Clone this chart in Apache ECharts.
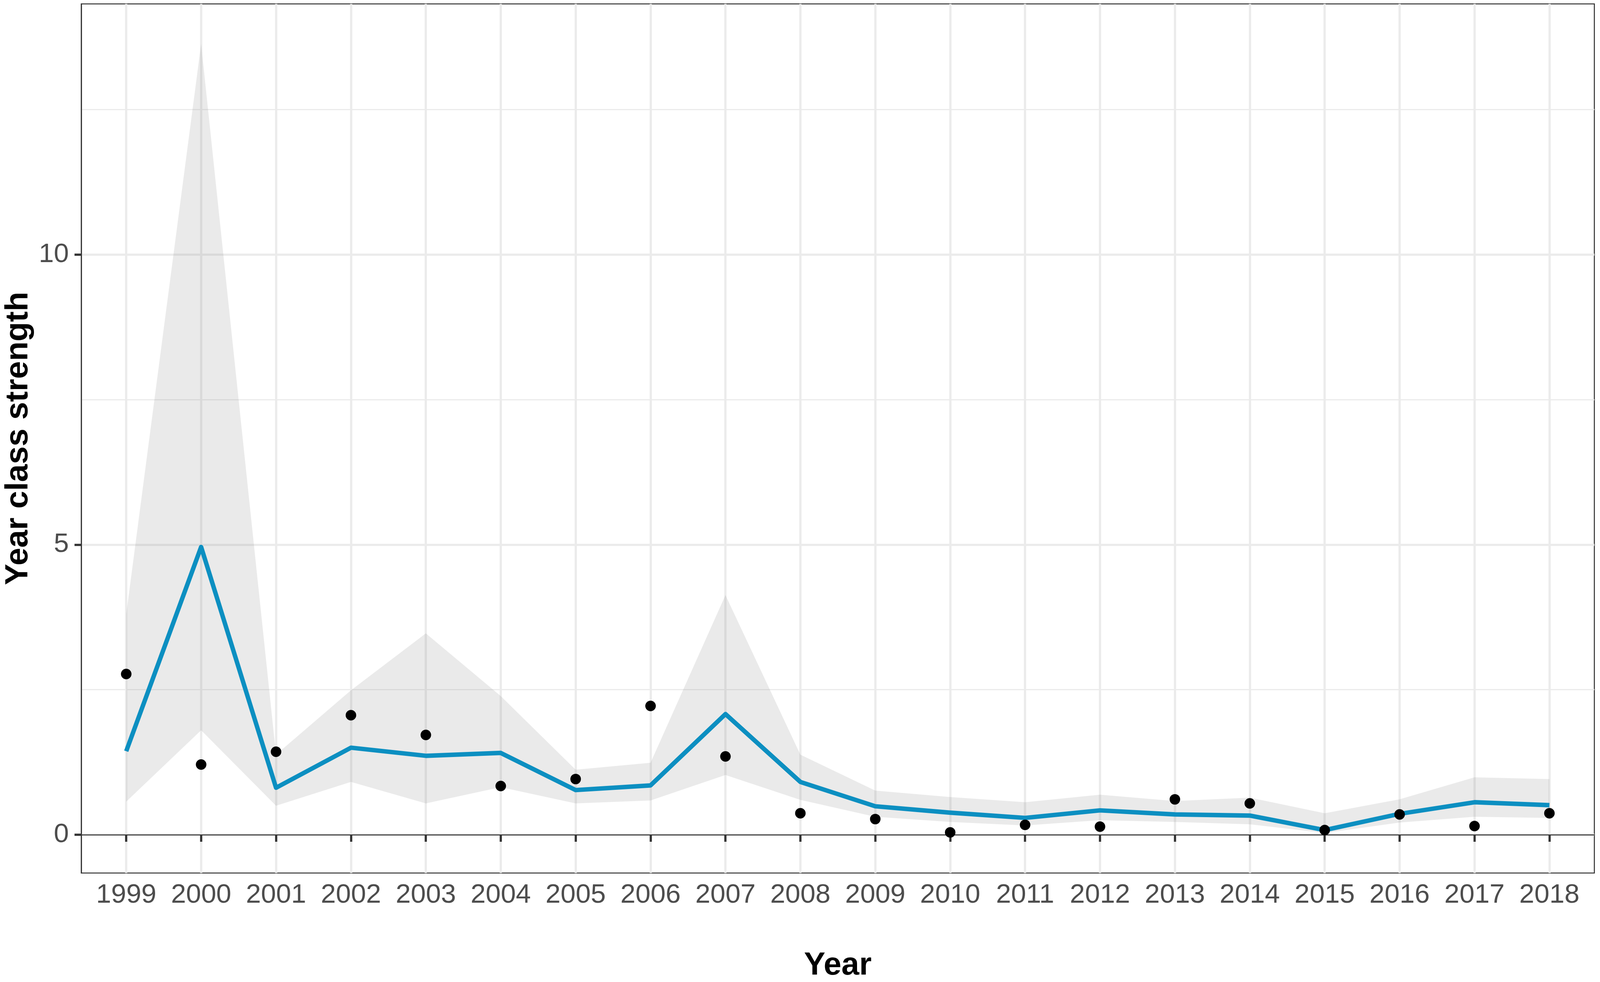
<!DOCTYPE html>
<html>
<head>
<meta charset="utf-8">
<title>Year class strength</title>
<script src="https://cdn.jsdelivr.net/npm/echarts@6/dist/echarts.min.js"></script>
<style>
    html,body{margin:0;padding:0;background:#fff;width:100%;height:100%;overflow:hidden;}
    #chart{width:100%;height:100%;}
</style>
</head>
<body>
<div id="chart"></div>
<script>
/*数据*/
var years = [1999,2000,2001,2002,2003,2004,2005,2006,2007,2008,2009,2010,2011,2012,2013,2014,2015,2016,2017,2018];
var observed = [2.77,1.21,1.43,2.06,1.72,0.84,0.96,2.22,1.35,0.37,0.27,0.04,0.17,0.14,0.61,0.54,0.08,0.35,0.15,0.37];
var fitted = [1.44,4.96,0.81,1.50,1.36,1.41,0.77,0.85,2.08,0.91,0.49,0.38,0.29,0.42,0.35,0.33,0.08,0.36,0.56,0.51];
var upper = [3.80,13.63,1.38,2.49,3.47,2.39,1.12,1.24,4.13,1.38,0.76,0.65,0.56,0.69,0.58,0.64,0.37,0.61,0.99,0.96];
var lower = [0.57,1.80,0.50,0.91,0.54,0.82,0.54,0.59,1.03,0.60,0.31,0.22,0.16,0.25,0.22,0.18,0.03,0.21,0.31,0.29];
var yTicks = [0,5,10];
var yMinorTicks = [2.5,7.5,12.5];

var FONT = "'Liberation Sans', Arial, Helvetica, sans-serif";

function pairs(xs,ys){
    var out = [];
    for(var i=0;i<xs.length;i++){
        out.push([xs[i],ys[i]]);
    }
    return out;
}
/*置信带数据: [年, 下沿, 上沿]*/
function bandData(){
    var out = [];
    for(var i=0;i<years.length;i++){
        out.push([years[i],lower[i],upper[i]]);
    }
    return out;
}

/*用custom画置信带多边形*/
function renderBand(params, api){
    if (params.dataIndex !== 0) return;
    var top = [], bottom = [];
    for(var i=0;i<years.length;i++){
        top.push(api.coord([years[i],upper[i]]));
        bottom.push(api.coord([years[i],lower[i]]));
    }
    var points = top.concat(bottom.reverse());
    return {
        type:'polygon',
        shape:{points:points},
        style:{fill:'rgba(127,127,127,0.16)'},
        silent:true
    };
}

var dom = document.getElementById('chart');
var myChart = echarts.init(dom, null, {renderer:'canvas'});

function buildOption(){
    /*按参考图 4252x2514 的比例缩放*/
    var sx = dom.clientWidth / 4252;
    var sy = dom.clientHeight / 2514;
    var s = Math.min(sx, sy);
    return {
        backgroundColor:'#fff',
        animation:false,
        grid:{
            left:216*sx,
            right:15*sx,
            top:10*sy,
            bottom:279*sy,
            containLabel:false,
            outerBoundsMode:'none',
            show:true,
            borderColor:'#333333',
            borderWidth:2.7*s,
            backgroundColor:'#fff'
        },
        xAxis:{
            type:'value',
            min:1998.4,
            max:2018.6,
            name:'Year',
            nameLocation:'middle',
            nameGap:196*sy,
            nameTextStyle:{
                fontFamily:FONT,
                fontSize:85*s,
                fontWeight:'bold',
                color:'#000'
            },
            axisLine:{show:true,lineStyle:{color:'#333333',width:2.7*s}},
            axisTick:{
                show:true,
                length:18*sy,
                customValues:years,
                lineStyle:{color:'#333333',width:5.9*s}
            },
            axisLabel:{
                show:true,
                customValues:years,
                margin:22*sy,
                fontFamily:FONT,
                fontSize:72*s,
                color:'#4d4d4d',
                formatter:function(v){ return String(v); }
            },
            splitLine:{show:true,lineStyle:{color:'#ebebeb',width:5.9*s}}
        },
        yAxis:[
            {
                type:'value',
                min:-0.66,
                max:14.32,
                name:'Year class strength',
                nameLocation:'middle',
                nameGap:120*sx,
                nameTextStyle:{
                    fontFamily:FONT,
                    fontSize:85*s,
                    fontWeight:'bold',
                    color:'#000'
                },
                axisLine:{show:true,lineStyle:{color:'#333333',width:2.7*s}},
                axisTick:{
                    show:true,
                    length:18*sx,
                    customValues:yTicks,
                    lineStyle:{color:'#333333',width:5.9*s}
                },
                axisLabel:{
                    show:true,
                    customValues:yTicks,
                    margin:33*sx,
                    fontFamily:FONT,
                    fontSize:72*s,
                    color:'#4d4d4d'
                },
                splitLine:{show:true,lineStyle:{color:'#ebebeb',width:5.9*s}}
            },
            /*次网格线*/
            {
                type:'value',
                position:'left',
                min:-0.66,
                max:14.32,
                axisLine:{show:false},
                axisTick:{show:false,customValues:yMinorTicks},
                axisLabel:{show:false},
                splitLine:{show:true,lineStyle:{color:'#ebebeb',width:3*s}}
            }
        ],
        series:[
            /*置信带*/
            {
                name:'band',
                type:'custom',
                renderItem:renderBand,
                data:bandData(),
                encode:{x:0,y:[1,2]},
                silent:true,
                z:2
            },
            {
                name:'fitted',
                type:'line',
                data:pairs(years,fitted),
                symbol:'none',
                lineStyle:{color:'#0c8fc1',width:11.8*s,join:'round'},
                z:3
            },
            {
                name:'observed',
                type:'scatter',
                data:pairs(years,observed),
                symbol:'circle',
                symbolSize:28*s,
                itemStyle:{color:'#000',opacity:1},
                z:4
            }
        ]
    };
}

var option = buildOption();
if (option && typeof option === "object") {
    myChart.setOption(option, true);
}
/*自适应*/
window.addEventListener("resize",function () {
    myChart.resize();
    myChart.setOption(buildOption(), true);
});
</script>
</body>
</html>
